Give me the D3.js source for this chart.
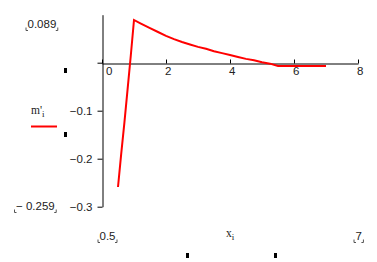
<!DOCTYPE html>
<html lang="en">
<head>
    <meta charset="UTF-8">
    <title>m'i vs xi</title>
    <style>
        body { margin: 0; background: #fff; }
        svg text { font-family: "Liberation Sans", Arial, sans-serif; font-size: 11.5px; fill: #222; }
        .serif { font-family: "Liberation Serif", "Times New Roman", serif; font-size: 11.5px; }
    </style>
</head>
<body>
    <script src="https://d3js.org/d3.v7.min.js"></script>
    <script>
        // curve m'_i against x_i
        const xVals = [0.5, 0.6, 0.7, 0.8, 0.9, 1.0, 1.2, 1.5, 1.75, 2.0, 2.25, 2.5, 2.75, 3.0, 3.25,
                       3.5, 3.75, 4.0, 4.25, 4.5, 4.75, 5.0, 5.25, 5.5, 6.0, 6.5, 7.0];
        const mVals = [-0.259, -0.19, -0.125, -0.055, 0.015, 0.089, 0.082, 0.072, 0.064, 0.056, 0.049,
                       0.043, 0.038, 0.033, 0.029, 0.024, 0.020, 0.016, 0.012, 0.008, 0.005, 0.001,
                       -0.002, -0.007, -0.007, -0.007, -0.007];
        const xTicks = [0, 2, 4, 6, 8];
        const yTicks = [0, -0.1, -0.2, -0.3];
        const yMaxLabel = "0.089";
        const yMinLabel = "\u2212 0.259";
        const xMinLabel = "0.5";
        const xMaxLabel = "7";

        const w = 377, h = 262;

        const svg = d3.select("body").append("svg")
            .attr("width", w)
            .attr("height", h);

        const xScale = d3.scaleLinear().domain([0, 8]).range([102, 358]);
        const yScale = d3.scaleLinear().domain([-0.3, 0.1]).range([206.7, 14.7]);

        // y axis
        const yAxis = d3.axisLeft(yScale)
            .tickValues(yTicks)
            .tickSizeInner(5)
            .tickSizeOuter(0)
            .tickPadding(5)
            .tickFormat(d => d === 0 ? "" : d3.format(".1f")(d));
        const gy = svg.append("g")
            .attr("transform", `translate(${xScale(0) + 0.5},0)`)
            .call(yAxis);
        gy.select(".domain").attr("stroke", "#000");
        gy.selectAll(".tick line").attr("stroke", "#000");
        gy.selectAll(".tick text").attr("font-size", null).attr("font-family", null);

        // x axis, ticks point up
        const xAxis = d3.axisBottom(xScale)
            .tickValues(xTicks)
            .tickSizeInner(-4)
            .tickSizeOuter(0)
            .tickPadding(3);
        const gx = svg.append("g")
            .attr("transform", `translate(0,${Math.round(yScale(0)) + 0.5})`)
            .call(xAxis);
        gx.select(".domain").attr("stroke", "#000");
        gx.selectAll(".tick line").attr("stroke", "#000");
        gx.selectAll(".tick text")
            .attr("font-size", null).attr("font-family", null)
            .attr("text-anchor", "start")
            .attr("dx", d => d === 0 ? 3.5 : -1.5);

        // curve
        const line = d3.line()
            .x(d => xScale(d[0]))
            .y(d => yScale(d[1]));
        svg.append("path")
            .datum(xVals.map((x, i) => [x, mVals[i]]))
            .attr("fill", "none")
            .attr("stroke", "#ff0000")
            .attr("stroke-width", 2)
            .attr("d", line);

        // mathcad range labels with corner marks
        function rangeLabel(x, y, txt, anchor) {
            const t = svg.append("text")
                .attr("x", x).attr("y", y)
                .attr("text-anchor", anchor || "start")
                .text(txt);
            const b = t.node().getBBox();
            const l = b.x - 1.5, r = b.x + b.width + 1.5, by = y + 2.5;
            svg.append("path")
                .attr("d", `M${l},${by - 3}V${by}H${l + 2}M${r - 2},${by}H${r}V${by - 3}`)
                .attr("fill", "none")
                .attr("stroke", "#555")
                .attr("stroke-width", 1);
        }
        rangeLabel(27.5, 28, yMaxLabel);
        rangeLabel(16, 210, yMinLabel);
        rangeLabel(99.5, 240, xMinLabel);
        rangeLabel(355.5, 240, xMaxLabel);

        // legend / axis names
        const yName = svg.append("text").attr("class", "serif").attr("x", 31).attr("y", 114);
        yName.append("tspan").text("m'");
        yName.append("tspan").attr("dy", 3).attr("font-size", "9px").text("i");
        svg.append("line")
            .attr("x1", 31).attr("x2", 57)
            .attr("y1", 126.5).attr("y2", 126.5)
            .attr("stroke", "#ff0000")
            .attr("stroke-width", 2);

        const xName = svg.append("text").attr("class", "serif").attr("x", 226).attr("y", 237);
        xName.append("tspan").text("x");
        xName.append("tspan").attr("dy", 3).attr("font-size", "9px").text("i");

        // small placeholder marks
        const marks = [[64, 68], [64, 132], [186, 253], [274, 253]];
        svg.selectAll("rect.mark")
            .data(marks)
            .enter()
            .append("rect")
            .attr("class", "mark")
            .attr("x", d => d[0]).attr("y", d => d[1])
            .attr("width", 3).attr("height", 5)
            .attr("fill", "#000");
    </script>
</body>
</html>
